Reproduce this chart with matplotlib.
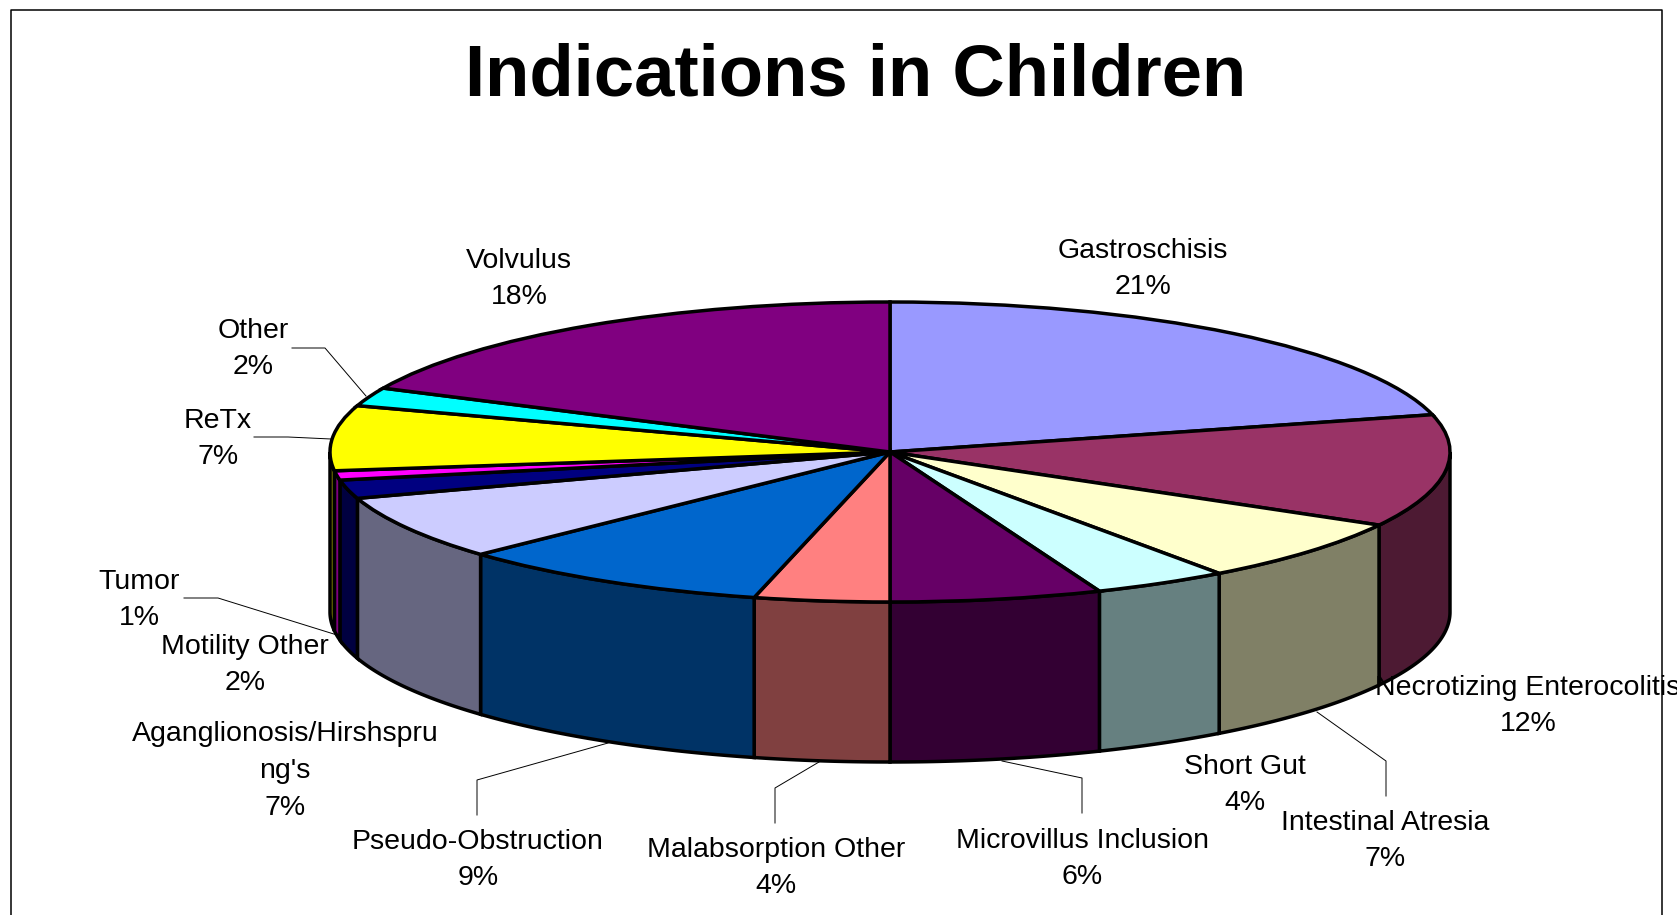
import numpy as np
import matplotlib
matplotlib.use("Agg")
import matplotlib.pyplot as plt
from matplotlib.colors import to_rgb
from matplotlib.transforms import Affine2D

W, H = 1677, 915
plt.rcParams['font.family'] = ['Liberation Sans', 'DejaVu Sans']

categories = ["Gastroschisis", "Necrotizing Enterocolitis", "Intestinal Atresia", "Short Gut",
              "Microvillus Inclusion", "Malabsorption Other", "Pseudo-Obstruction",
              "Aganglionosis/Hirshspru\nng's", "Motility Other", "Tumor", "ReTx", "Other", "Volvulus"]
# labels show these rounded, slice angles give the extra digit
values = [21, 12.1, 6.9, 3.9, 6.1, 3.9, 9.15, 6.95, 2, 1, 7, 2, 18]
colors = ["#9999FF", "#993366", "#FFFFCC", "#CCFFFF", "#660066", "#FF8080", "#0066CC",
          "#CCCCFF", "#000080", "#FF00FF", "#FFFF00", "#00FFFF", "#800080"]

# label centres in pixels, same order as categories
label_pos = [(1143, 269), (1528, 706), (1385, 841), (1245, 785), (1082, 859), (776, 868), (478, 860),
             (285, 771), (245, 665), (139, 600), (218, 439), (253, 349), (519, 279)]

# leader lines in pixels
leaders = [
    [(292, 348), (325, 348), (366, 396)],
    [(254, 437), (288, 437), (331, 439)],
    [(184, 598), (218, 598), (337, 635)],
    [(477, 815), (477, 780), (608, 743)],
    [(775, 823), (775, 788), (819, 762)],
    [(1082, 813), (1082, 778), (1002, 761)],
    [(1386, 796), (1386, 761), (1317, 712)],
]

# pie geometry in pixels
CX, CY, RX, RY, DEPTH = 890, 452, 560, 150, 160

fig = plt.figure(figsize=(W / 100, H / 100), dpi=100)
ax = fig.add_axes([0, 0, 1, 1])

ax.pie(values, colors=colors, startangle=90, counterclock=False,
       wedgeprops=dict(edgecolor="black", linewidth=2.5, zorder=3))
ax.set_aspect("auto")
ax.set_xlim(-CX / RX, (W - CX) / RX)
ax.set_ylim((CY - H) / RY, CY / RY)

# side wall, only the front half shows
edges = np.cumsum([0] + values) / sum(values)
d = DEPTH / RY
for f0, f1, c in zip(edges[:-1], edges[1:], colors):
    a, b = max(f0, 0.25), min(f1, 0.75)
    if a >= b:
        continue
    t = np.pi / 2 - 2 * np.pi * np.linspace(a, b, 60)
    xs = np.cos(t)
    ys = np.sin(t)
    ax.fill(np.r_[xs, xs[::-1]], np.r_[ys, ys[::-1] - d],
            facecolor=np.array(to_rgb(c)) * 0.5, edgecolor="black", linewidth=2.5, zorder=2)

# everything below is placed in image pixels
px = Affine2D().scale(1, -1).translate(0, H)

for pts in leaders:
    p = np.array(pts)
    ax.plot(p[:, 0], p[:, 1], color="black", lw=0.7, transform=px, zorder=4, clip_on=False)

for name, v, (x, y) in zip(categories, values, label_pos):
    ax.text(x, y, f"{name}\n{v:.0f}%", transform=px, ha="center", va="center", fontsize=20.5,
            linespacing=1.54, color="black", zorder=5)

ax.text(856, 77, "Indications in Children", transform=px, ha="center", va="center",
        fontsize=52.2, fontweight="bold", color="black", zorder=5)

# chart frame, bottom edge runs off the picture
ax.plot([10.5, 10.5, 1662, 1662], [H, 9.5, 9.5, H], color="black", lw=1.1, transform=px, zorder=6)

fig.savefig("out.png", dpi=100)
